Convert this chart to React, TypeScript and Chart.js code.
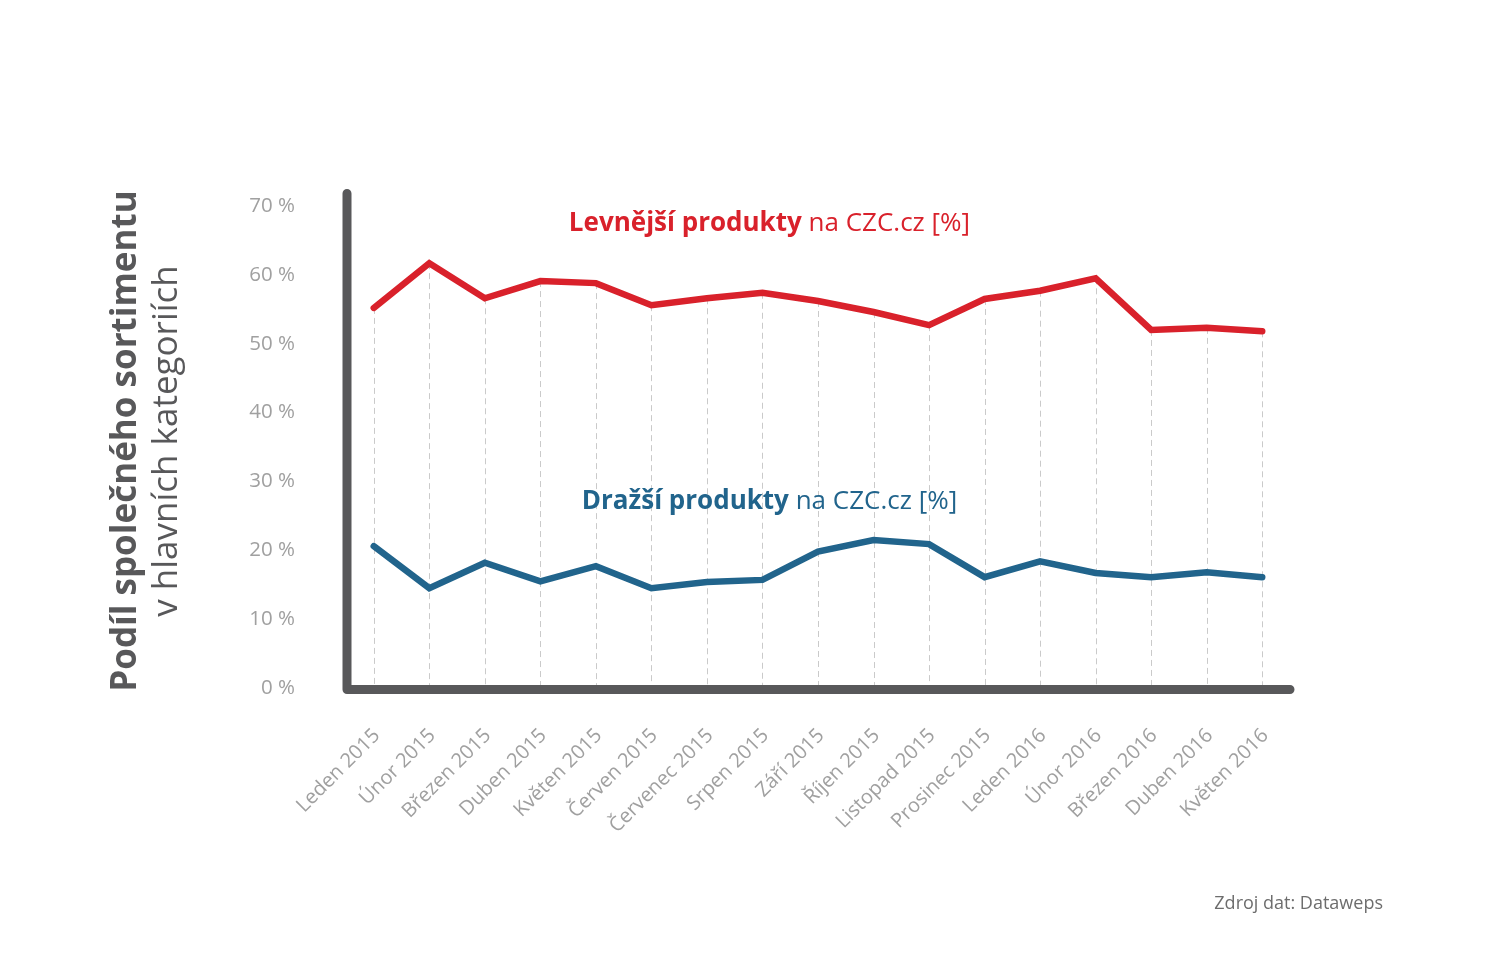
import React, { useEffect, useRef } from "react";
import { Chart, registerables } from "chart.js";

Chart.register(...registerables);

const categories = [
  "Leden 2015", "Únor 2015", "Březen 2015", "Duben 2015", "Květen 2015",
  "Červen 2015", "Červenec 2015", "Srpen 2015", "Září 2015", "Říjen 2015",
  "Listopad 2015", "Prosinec 2015", "Leden 2016", "Únor 2016", "Březen 2016",
  "Duben 2016", "Květen 2016",
];
const cheaperValues = [55.2, 61.7, 56.6, 59.1, 58.8, 55.6, 56.6, 57.4, 56.2, 54.6, 52.7, 56.5, 57.7, 59.5, 52.0, 52.3, 51.8];
const pricierValues = [20.6, 14.5, 18.2, 15.5, 17.7, 14.5, 15.4, 15.7, 19.8, 21.5, 20.9, 16.1, 18.4, 16.7, 16.1, 16.8, 16.1];
const yMin = 0;
const yMax = 70;
const yStep = 10;

const RED = "#d9212b";
const BLUE = "#21648c";
const AXIS = "#58585a";
const FONT = "'Open Sans', sans-serif";

function drawMixed(ctx: CanvasRenderingContext2D, cx: number, y: number, boldPart: string, regPart: string, size: number, color: string) {
  ctx.save();
  ctx.fillStyle = color;
  ctx.textBaseline = "alphabetic";
  ctx.textAlign = "left";
  ctx.font = `bold ${size}px ${FONT}`;
  const wb = ctx.measureText(boldPart).width;
  ctx.font = `${size}px ${FONT}`;
  const wr = ctx.measureText(regPart).width;
  const start = cx - (wb + wr) / 2;
  ctx.font = `bold ${size}px ${FONT}`;
  ctx.fillText(boldPart, start, y);
  ctx.font = `${size}px ${FONT}`;
  ctx.fillText(regPart, start + wb, y);
  ctx.restore();
}

const decorPlugin = {
  id: "decor",
  beforeDatasetsDraw(chart: any) {
    const { ctx, chartArea } = chart;
    const meta = chart.getDatasetMeta(0);
    ctx.save();
    ctx.strokeStyle = "#cacaca";
    ctx.lineWidth = 1;
    ctx.setLineDash([6, 4]);
    meta.data.forEach((pt: any) => {
      const x = Math.round(pt.x) + 0.5;
      ctx.beginPath();
      ctx.moveTo(x, pt.y);
      ctx.lineTo(x, chartArea.bottom);
      ctx.stroke();
    });
    ctx.restore();
  },
  afterDatasetsDraw(chart: any) {
    const { ctx, chartArea, scales } = chart;
    // axes
    ctx.save();
    ctx.strokeStyle = AXIS;
    ctx.lineWidth = 9;
    ctx.lineCap = "round";
    ctx.lineJoin = "round";
    ctx.beginPath();
    ctx.moveTo(chartArea.left + 1, chartArea.top - 12.5);
    ctx.lineTo(chartArea.left + 1, chartArea.bottom + 1.5);
    ctx.lineTo(chartArea.right, chartArea.bottom + 1.5);
    ctx.stroke();
    ctx.restore();

    // series annotations
    const cx = scales.x.getPixelForValue(7) + 7;
    drawMixed(ctx, cx, scales.y.getPixelForValue(66.3), "Levnější produkty", " na CZC.cz [%]", 26, RED);
    drawMixed(ctx, cx, scales.y.getPixelForValue(26.0), "Dražší produkty", " na CZC.cz [%]", 26, BLUE);

    // y title
    ctx.save();
    ctx.fillStyle = AXIS;
    ctx.textAlign = "center";
    ctx.textBaseline = "alphabetic";
    ctx.save();
    ctx.translate(136, 441);
    ctx.rotate(-Math.PI / 2);
    ctx.font = `bold 35px ${FONT}`;
    ctx.fillText("Podíl společného sortimentu", 0, 0);
    ctx.restore();
    ctx.save();
    ctx.translate(177, 441);
    ctx.rotate(-Math.PI / 2);
    ctx.font = `35px ${FONT}`;
    ctx.fillText("v hlavních kategoriích", 0, 0);
    ctx.restore();
    ctx.restore();

    // source
    ctx.save();
    ctx.fillStyle = "#6d6d6d";
    ctx.font = `18px ${FONT}`;
    ctx.textAlign = "right";
    ctx.textBaseline = "alphabetic";
    ctx.fillText("Zdroj dat: Dataweps", 1383, 909);
    ctx.restore();
  },
};

export default function App() {
  const canvasRef = useRef<HTMLCanvasElement | null>(null);

  useEffect(() => {
    if (!canvasRef.current) return;
    const chart = new Chart(canvasRef.current, {
      type: "line",
      data: {
        labels: categories,
        datasets: [
          {
            label: "Levnější produkty na CZC.cz [%]",
            data: cheaperValues,
            borderColor: RED,
            backgroundColor: RED,
            borderWidth: 6.5,
            pointRadius: 0,
            tension: 0,
            borderCapStyle: "round",
            borderJoinStyle: "miter",
          },
          {
            label: "Dražší produkty na CZC.cz [%]",
            data: pricierValues,
            borderColor: BLUE,
            backgroundColor: BLUE,
            borderWidth: 6.5,
            pointRadius: 0,
            tension: 0,
            borderCapStyle: "round",
            borderJoinStyle: "miter",
          },
        ],
      },
      options: {
        animation: false,
        responsive: true,
        maintainAspectRatio: false,
        layout: { padding: { top: 206, right: 200, left: 0, bottom: 0 } },
        plugins: {
          legend: { display: false },
          tooltip: { enabled: false },
          title: { display: false },
        },
        scales: {
          x: {
            type: "category",
            offset: true,
            grid: { display: false, drawTicks: false },
            border: { display: false },
            ticks: {
              autoSkip: false,
              minRotation: 45,
              maxRotation: 45,
              padding: 36,
              labelOffset: 3,
              color: "#a0a0a0",
              font: { family: FONT, size: 20 },
            },
            afterFit: (scale: any) => {
              scale.height = 266;
            },
          },
          y: {
            min: yMin,
            max: yMax,
            grid: { display: false, drawTicks: false },
            border: { display: false },
            ticks: {
              stepSize: yStep,
              padding: 51,
              color: "#a0a0a0",
              font: { family: FONT, size: 20.5 },
              callback: (v: any) => `${v} %`,
            },
            afterFit: (scale: any) => {
              scale.width = 346;
            },
          },
        },
      },
      plugins: [decorPlugin],
    });
    return () => chart.destroy();
  }, []);

  return (
    <div style={{ position: "fixed", left: 0, top: 0, width: 1490, height: 954, background: "#ffffff" }}>
      <canvas ref={canvasRef} />
    </div>
  );
}
